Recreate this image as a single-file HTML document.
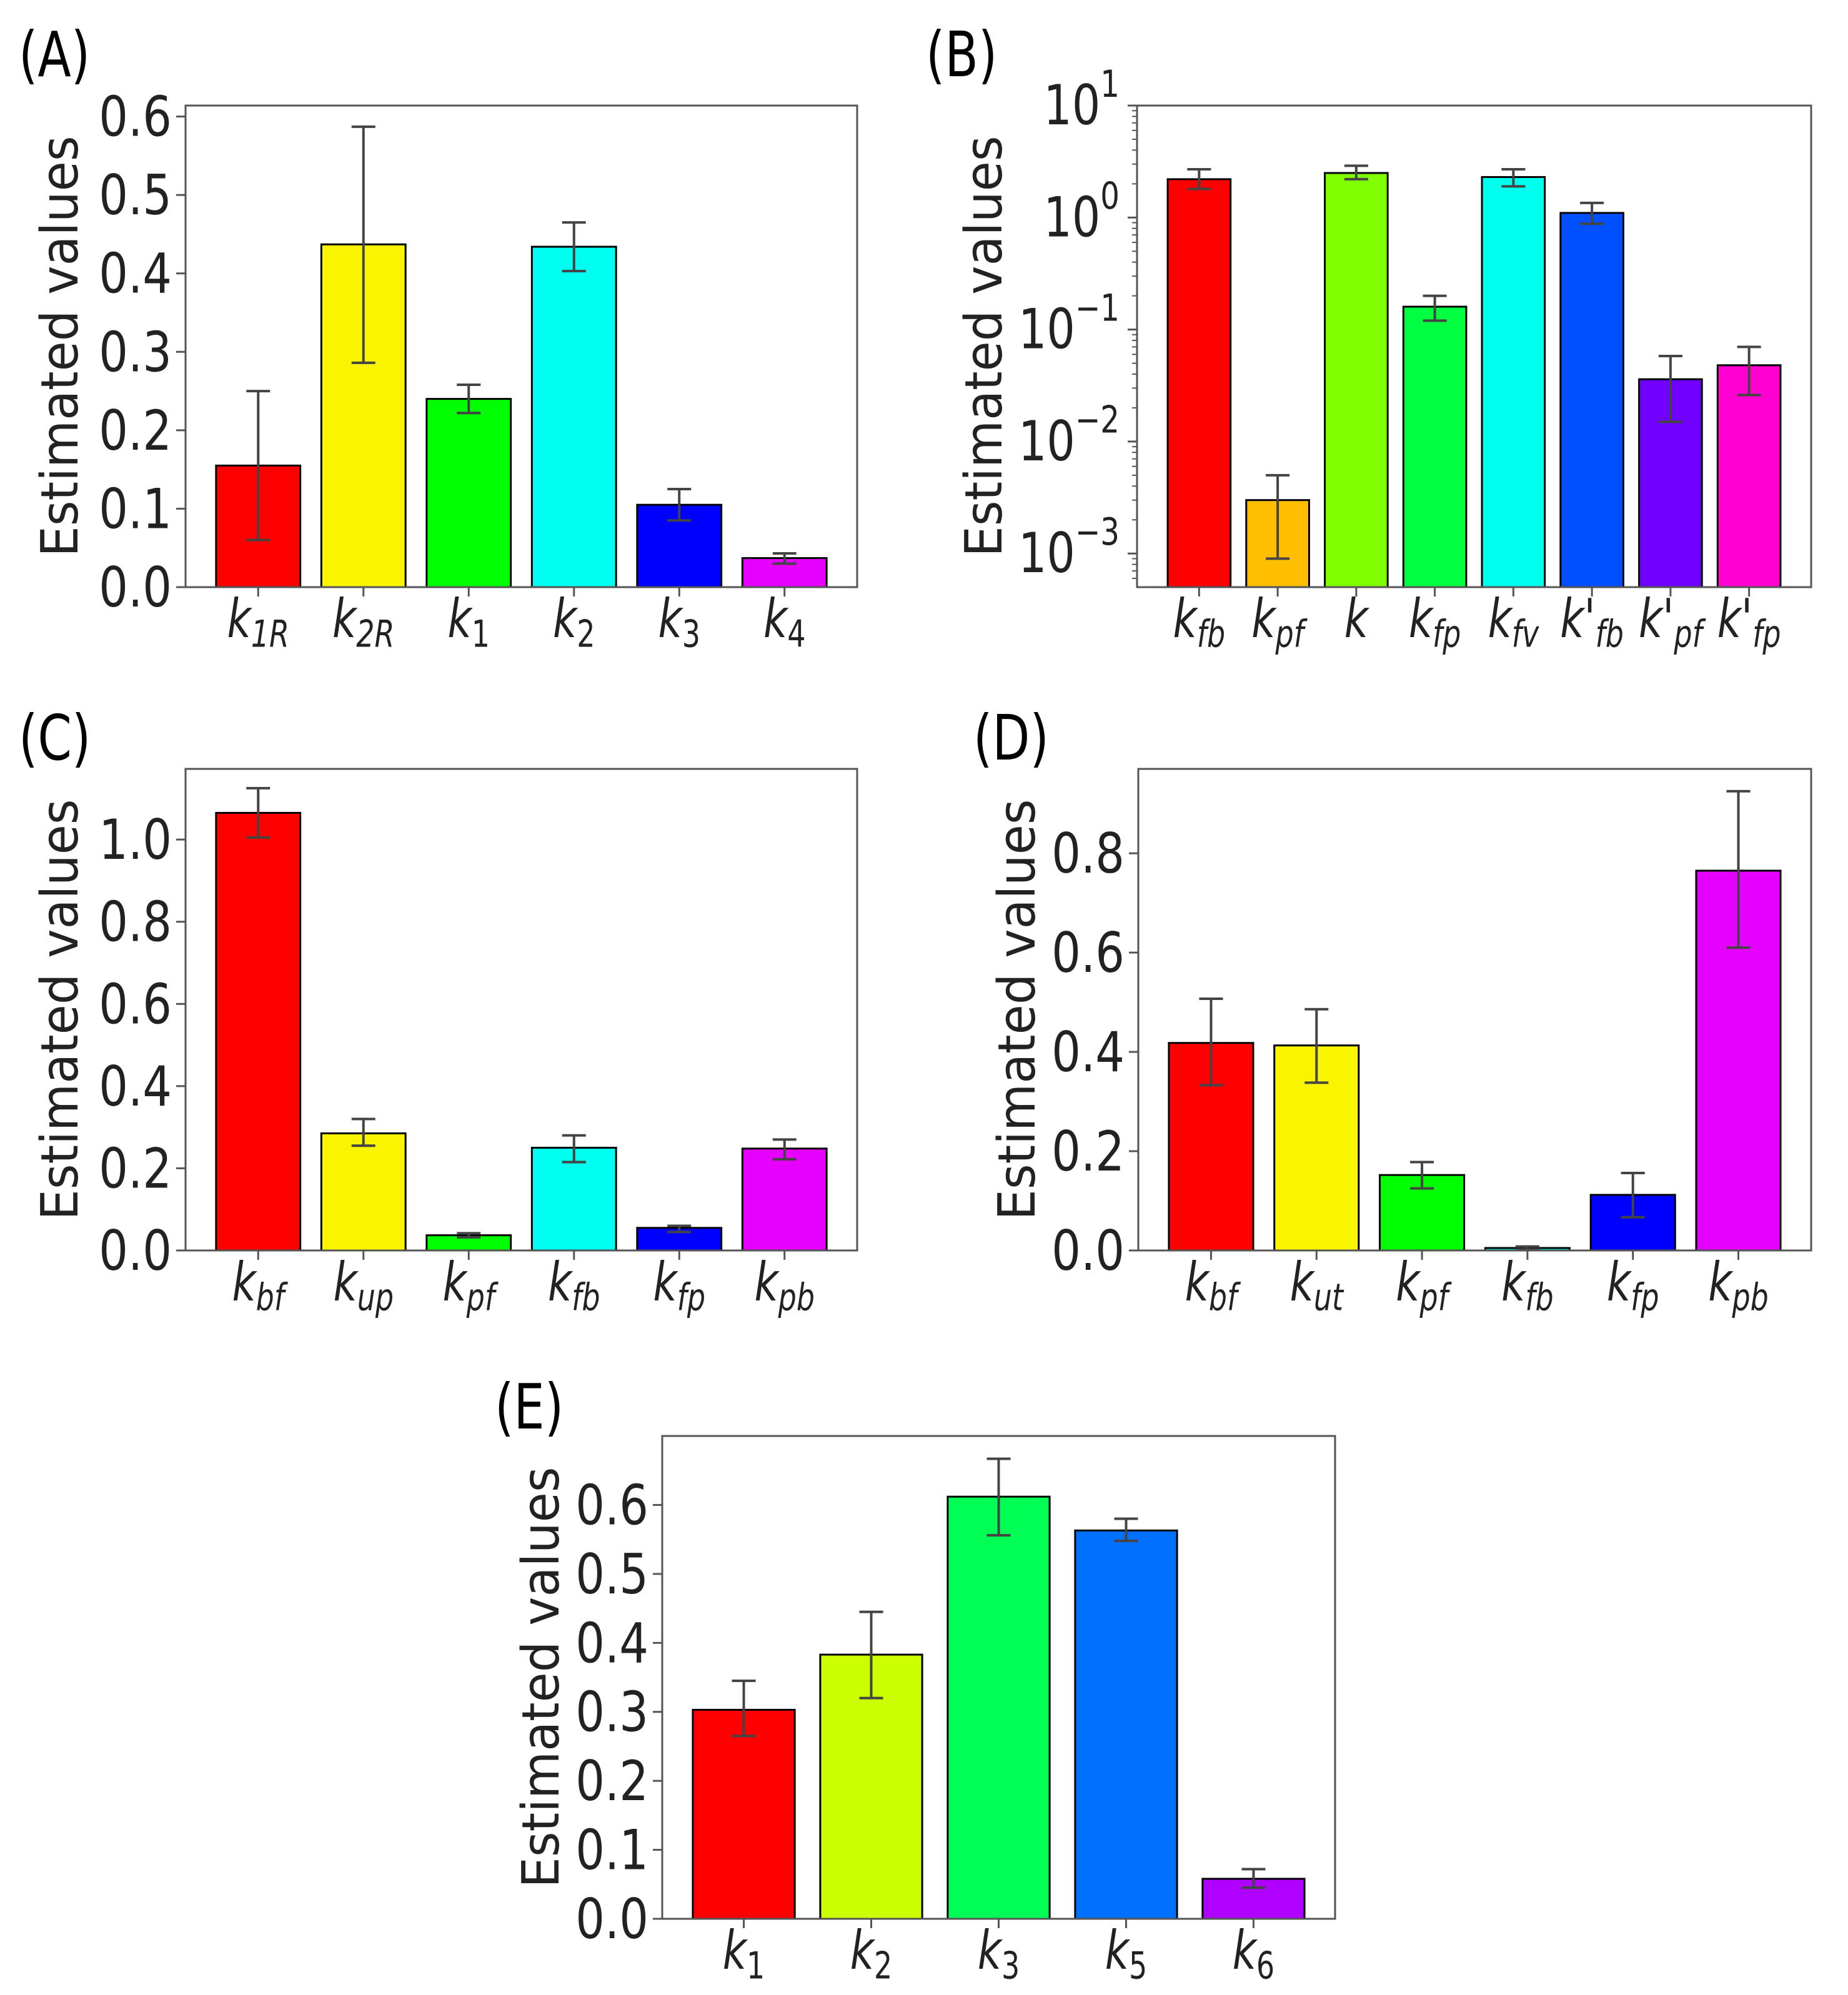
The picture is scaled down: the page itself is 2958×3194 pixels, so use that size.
<!DOCTYPE html>
<html><head><meta charset="utf-8">
<style>
html,body{margin:0;padding:0;background:#fff;}
svg{display:block;font-family:"DejaVu Sans","Liberation Sans",sans-serif;}
</style></head>
<body>
<svg id="fig" width="2958" height="3194" viewBox="0 0 2958 3194" xmlns="http://www.w3.org/2000/svg"></svg>
<script>
// Panel A
const catsA = ["1R","2R","1","2","3","4"];
const valsA = [0.155,0.437,0.240,0.434,0.105,0.037];
const loA = [0.060,0.286,0.222,0.403,0.085,0.030];
const hiA = [0.250,0.587,0.258,0.465,0.125,0.043];
const colA = ["#ff0000","#f9f500","#00ff00","#00fff0","#0000ff","#e600ff"];
const ticksA = ["0.0","0.1","0.2","0.3","0.4","0.5","0.6"];
// Panel B (log)
const catsB = ["fb","pf","","fp","fv","fb","pf","fp"];
const primeB = [false,false,false,false,false,true,true,true];
const valsB = [2.2,0.003,2.5,0.16,2.3,1.1,0.036,0.048];
const loB = [1.8,0.0009,2.2,0.12,1.9,0.88,0.015,0.026];
const hiB = [2.7,0.005,2.9,0.20,2.7,1.35,0.058,0.070];
const colB = ["#ff0000","#ffbf00","#80ff00","#00ff40","#00ffee","#0050ff","#7000ff","#ff00d0"];
const ticksB = ["1","0","\u22121","\u22122","\u22123"];
// Panel C
const catsC = ["bf","up","pf","fb","fp","pb"];
const valsC = [1.065,0.285,0.037,0.250,0.055,0.248];
const loC = [1.005,0.255,0.032,0.215,0.045,0.222];
const hiC = [1.125,0.320,0.042,0.280,0.060,0.270];
const colC = ["#ff0000","#f9f500","#00ff00","#00fff0","#0000ff","#e600ff"];
const ticksC = ["0.0","0.2","0.4","0.6","0.8","1.0"];
// Panel D
const catsD = ["bf","ut","pf","fb","fp","pb"];
const valsD = [0.418,0.413,0.152,0.005,0.112,0.765];
const loD = [0.333,0.338,0.125,0.002,0.067,0.610];
const hiD = [0.507,0.486,0.178,0.008,0.156,0.925];
const colD = ["#ff0000","#f9f500","#00ff00","#00fff0","#0000ff","#e600ff"];
const ticksD = ["0.0","0.2","0.4","0.6","0.8"];
// Panel E
const catsE = ["1","2","3","5","6"];
const valsE = [0.303,0.383,0.612,0.563,0.058];
const loE = [0.265,0.320,0.556,0.548,0.045];
const hiE = [0.345,0.445,0.667,0.580,0.072];
const colE = ["#ff0000","#ccff00","#00ff55","#0070ff","#b000ff"];
const ticksE = ["0.0","0.1","0.2","0.3","0.4","0.5","0.6"];

const NS="http://www.w3.org/2000/svg";
const svg=document.getElementById('fig');
function mk(tag,attrs,parent){const e=document.createElementNS(NS,tag);for(const k in attrs)e.setAttribute(k,attrs[k]);(parent||svg).appendChild(e);return e;}

function panel(p){
  const g=mk('g',{});
  
  
  const n=p.cats.length;
  const xmin=-0.4-0.05*(n-1+0.8), xmax=n-1+0.4+0.05*(n-1+0.8);
  const X=v=>p.x0+(v-xmin)/(xmax-xmin)*(p.x1-p.x0);
  const Y=p.log
    ? v=>p.y1-(Math.log10(v)-p.ymin)/(p.ymax-p.ymin)*(p.y1-p.y0)
    : v=>p.y1-(v-p.ymin)/(p.ymax-p.ymin)*(p.y1-p.y0);
  const bw=(X(0.8)-X(0));
  // panel letter
  const lt=mk('text',{x:0,y:0,'font-size':78,fill:'#000',transform:`translate(${p.lx},${p.ly}) scale(1.0,1.28)`},g);
  lt.textContent='('+p.id+')';
  
  
  // bars
  const bottomV=p.log?Math.pow(10,p.ymin):0;
  for(let i=0;i<n;i++){
    const yt=Y(p.vals[i]), yb=Y(bottomV);
    const r=mk('rect',{x:X(i)-bw/2,y:yt,width:bw,height:yb-yt,fill:p.cols[i],stroke:'#000','stroke-width':3},g);
    
    
  }
  // error bars
  for(let i=0;i<n;i++){
    const eg=mk('g',{stroke:'#444','stroke-width':4},g);
    
    
    const cx=X(i), ya=Y(p.lo[i]), yb=Y(p.hi[i]);
    mk('line',{x1:cx,x2:cx,y1:ya,y2:yb},eg);
    mk('line',{x1:cx-19,x2:cx+19,y1:ya,y2:ya},eg);
    mk('line',{x1:cx-19,x2:cx+19,y1:yb,y2:yb},eg);
  }
  // frame
  const fr=mk('rect',{x:p.x0,y:p.y0,width:p.x1-p.x0,height:p.y1-p.y0,fill:'none',stroke:'#555','stroke-width':3},g);
  
  
  // y ticks
  if(p.log){
    for(let d=Math.ceil(p.ymin);d<=p.ymax;d++){
      const y=Y(Math.pow(10,d));
      mk('line',{x1:p.x0-15,x2:p.x0,y1:y,y2:y,stroke:'#555','stroke-width':3},g);
      for(let m=2;m<10;m++){const v=Math.log10(m)+d; if(v<p.ymax){const yy=Y(Math.pow(10,v)); mk('line',{x1:p.x0-8,x2:p.x0,y1:yy,y2:yy,stroke:'#555','stroke-width':2},g);}}
    }
    for(let m=5;m<10;m++){const v=Math.log10(m)+Math.floor(p.ymin); if(v>p.ymin){const yy=Y(Math.pow(10,v)); mk('line',{x1:p.x0-8,x2:p.x0,y1:yy,y2:yy,stroke:'#555','stroke-width':2},g);}}
    for(let k=0;k<p.ticks.length;k++){
      const d=Math.round(p.ymax)-k, y=Y(Math.pow(10,d));
      const t=mk('text',{x:0,y:0,'font-size':68,'text-anchor':'end',fill:'#222',transform:`translate(${p.x0-28},${y+30}) scale(1.05,1.3)`},g);
      
      
      const a=mk('tspan',{},t); a.textContent='10';
      const s=mk('tspan',{'font-size':46,dy:-34},t); s.textContent=p.ticks[k];
    }
  } else {
    for(let k=0;k<p.ticks.length;k++){
      const v=parseFloat(p.ticks[k]), y=Y(v);
      mk('line',{x1:p.x0-15,x2:p.x0,y1:y,y2:y,stroke:'#555','stroke-width':3},g);
      const t=mk('text',{x:0,y:0,'font-size':68,'text-anchor':'end',fill:'#222',transform:`translate(${p.x0-22},${y+31}) scale(1.08,1.3)`},g);
      t.textContent=p.ticks[k];
      
      
    }
  }
  // x ticks
  for(let i=0;i<n;i++){
    const cx=X(i);
    mk('line',{x1:cx,x2:cx,y1:p.y1,y2:p.y1+15,stroke:'#555','stroke-width':3},g);
    const t=mk('text',{x:0,y:0,'font-size':66,'text-anchor':'middle','font-style':'italic',fill:'#222',transform:`translate(${cx},${p.y1+80}) scale(1.0,1.3)`},g);
    
    
    const a=mk('tspan',{},t); a.textContent=(p.prime&&p.prime[i])?"k'":'k';
    if(p.cats[i]){const s=mk('tspan',{'font-size':46,dy:12,'font-style':/^\d$/.test(p.cats[i])?'normal':'italic'},t); s.textContent=p.cats[i];}
  }
  // y label
  const yl=mk('text',{x:0,y:0,'font-size':68,'text-anchor':'middle',fill:'#222',transform:`translate(${p.ylx},${(p.y0+p.y1)/2}) rotate(-90) scale(1.15,1.2)`},g);
  yl.textContent='Estimated values';
  
  
}

panel({id:'A',cats:catsA,vals:valsA,lo:loA,hi:hiA,cols:colA,ticks:ticksA,x0:297,x1:1372,y0:169,y1:940,ymin:0,ymax:0.614,lx:30,ly:122,ylx:124});
panel({id:'B',cats:catsB,prime:primeB,vals:valsB,lo:loB,hi:hiB,cols:colB,ticks:ticksB,log:true,x0:1820,x1:2899,y0:169,y1:940,ymin:-3.3,ymax:1,lx:1482,ly:122,ylx:1603});
panel({id:'C',cats:catsC,vals:valsC,lo:loC,hi:hiC,cols:colC,ticks:ticksC,x0:297,x1:1372,y0:1231,y1:2002,ymin:0,ymax:1.172,lx:30,ly:1216,ylx:124});
panel({id:'D',cats:catsD,vals:valsD,lo:loD,hi:hiD,cols:colD,ticks:ticksD,x0:1822,x1:2899,y0:1231,y1:2002,ymin:0,ymax:0.970,lx:1558,ly:1216,ylx:1656});
panel({id:'E',cats:catsE,vals:valsE,lo:loE,hi:hiE,cols:colE,ticks:ticksE,x0:1060,x1:2137,y0:2299,y1:3072,ymin:0,ymax:0.700,lx:792,ly:2287,ylx:894});
</script>
</body></html>
